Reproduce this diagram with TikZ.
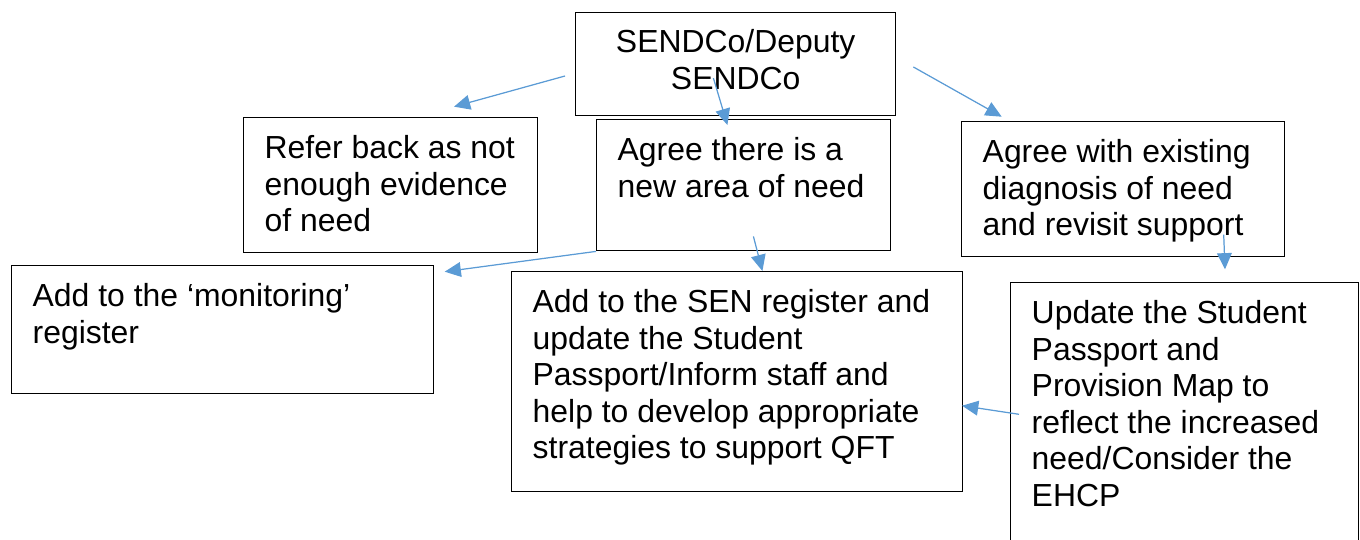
\documentclass[tikz,border=0pt]{standalone}
\usepackage{fontspec}
\setmainfont{Liberation Sans}
\usetikzlibrary{arrows.meta}
\definecolor{flecheblue}{RGB}{91,155,213}
\newcommand{\boxtext}[3]{\parbox[t][#2][t]{#1}{\raggedright\leftskip=0.21cm\rule{0pt}{0.41cm}#3}}

\begin{document}
\begin{tikzpicture}[font=\fontsize{9.08pt}{10.4pt}\selectfont]
 \tikzstyle{boite}=[draw, line width=0.4pt, inner sep=0pt, anchor=north west, text=black]
 \tikzstyle{fleche}=[->, >={Triangle[length=4.6pt,width=4.2pt]}, line width=0.35pt, draw=flecheblue, fill=flecheblue]
 \useasboundingbox (0,0) rectangle (13.6,-5.4);
 \clip (0,0) rectangle (13.6,-5.4);
 %
 \node[boite] (sendco) at (5.75,-0.12) {\parbox[t][1.03cm][t]{3.2cm}{\centering\rule{0pt}{0.40cm}SENDCo/Deputy\\SENDCo}};
 %
 \node[boite] (refer) at (2.43,-1.17) {\boxtext{2.94cm}{1.35cm}{Refer back as not\\enough evidence\\of need}};
 \node[boite] (agreenew) at (5.96,-1.19) {\boxtext{2.94cm}{1.31cm}{Agree there is a\\new area of need}};
 \node[boite] (agreeex) at (9.61,-1.21) {\boxtext{3.23cm}{1.35cm}{Agree with existing\\diagnosis of need\\and revisit support}};
 %
 \node[boite] (monitor) at (0.11,-2.65) {\boxtext{4.22cm}{1.28cm}{Add to the ‘monitoring’\\register}};
 \node[boite] (senreg) at (5.11,-2.71) {\boxtext{4.51cm}{2.20cm}{Add to the SEN register and\\update the Student\\Passport/Inform staff and\\help to develop appropriate\\strategies to support QFT}};
 \node[boite] (update) at (10.10,-2.82) {\boxtext{3.48cm}{3.00cm}{Update the Student\\Passport and\\Provision Map to\\reflect the increased\\need/Consider the\\EHCP}};
 %%
 \draw[fleche] ([shift={(-0.10,-0.118)}]sendco.west)--([shift={(0.633,0.103)}]refer.north);
 \draw[fleche] ([shift={(-0.223,0.383)}]sendco.south)--([shift={(-0.163,-0.06)}]agreenew.north);
 \draw[fleche] ([shift={(0.17,-0.028)}]sendco.east)--([shift={(0.407,0.043)}]agreeex.north west);
 \draw[fleche] (agreenew.south west)--([shift={(0.103,-0.067)}]monitor.north east);
 \draw[fleche] ([shift={(0.097,0.15)}]agreenew.south)--([shift={(0.252,0)}]senreg.north);
 \draw[fleche] ([shift={(-0.617,0.227)}]agreeex.south east)--([shift={(0.403,0.127)}]update.north);
 \draw[fleche] ([shift={(0.09,-1.323)}]update.north west)--([shift={(-0.013,-0.24)}]senreg.east);
\end{tikzpicture}
\end{document}
